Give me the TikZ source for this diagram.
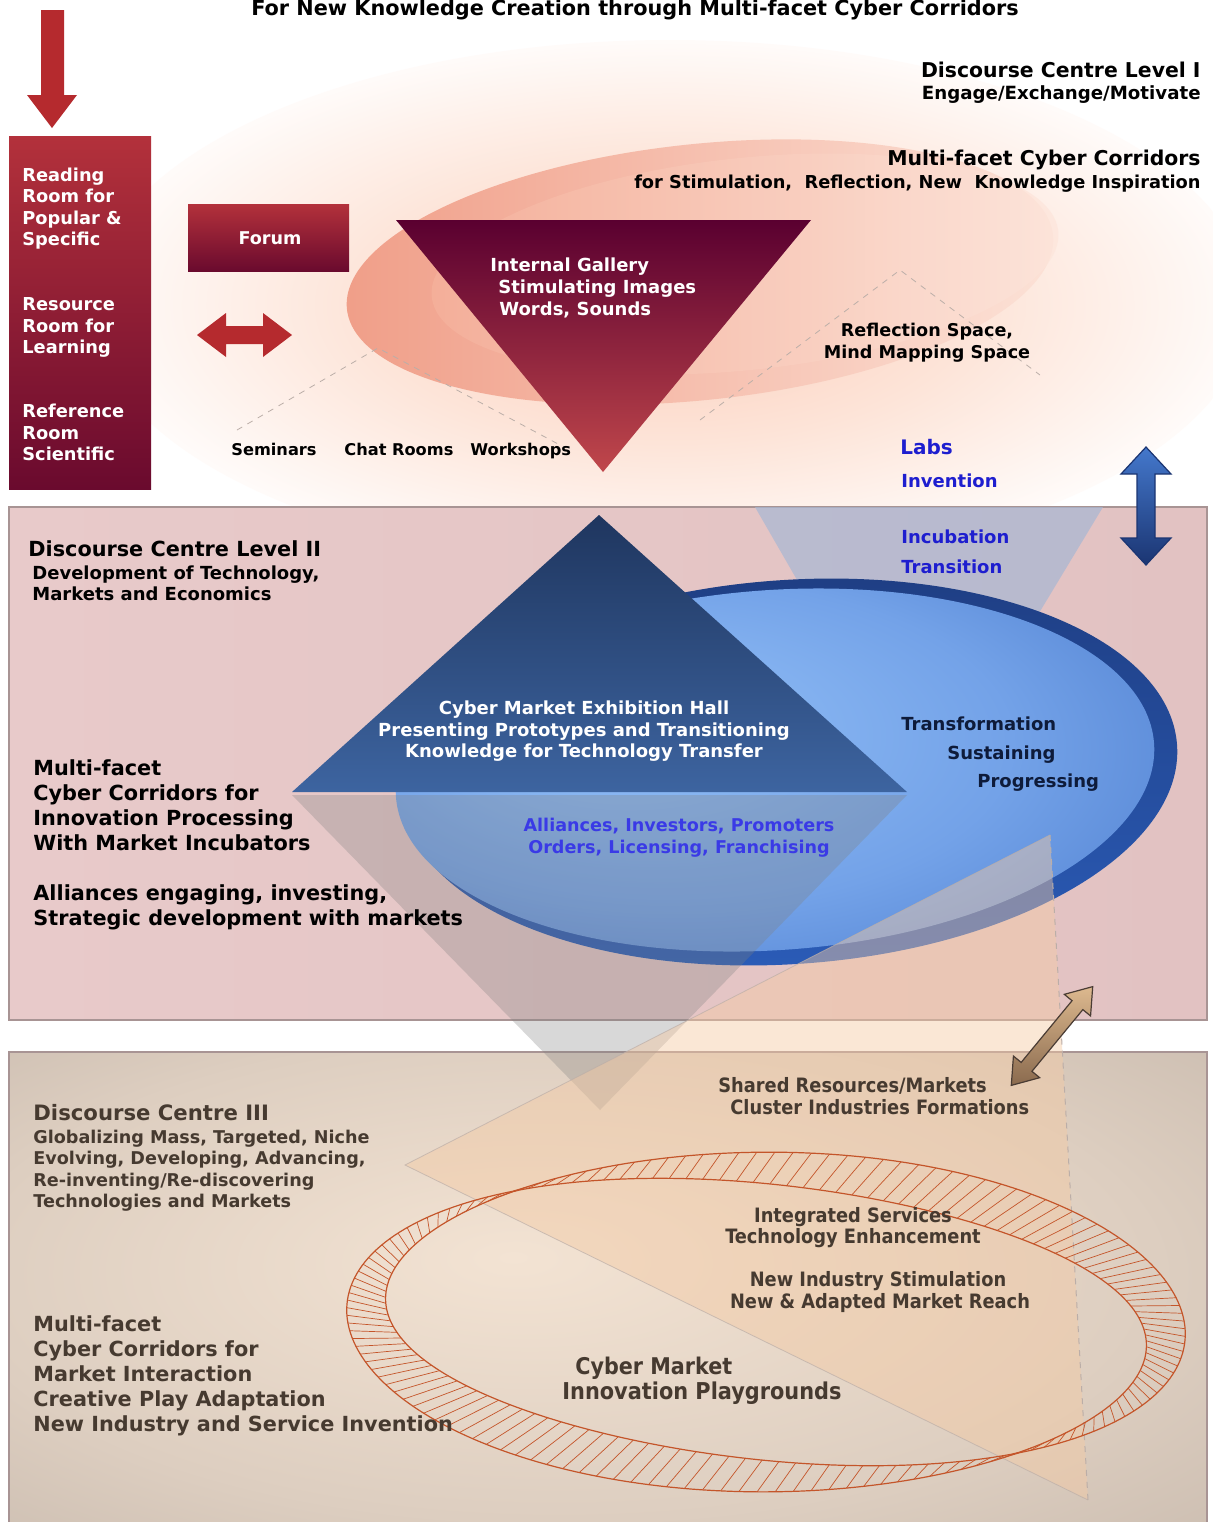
\documentclass[tikz,border=0pt]{standalone}
\usepackage{fontspec}
\setmainfont{DejaVu Sans}
\newfontfamily\condf{DejaVu Sans Condensed}
\definecolor{redA}{HTML}{B3313B}
\definecolor{redB}{HTML}{6A0A2E}
\definecolor{arrowred}{HTML}{B52A2E}
\definecolor{triA}{HTML}{5A0030}
\definecolor{triB}{HTML}{C0474B}
\definecolor{glowA}{HTML}{FBCDBA}
\definecolor{glowB}{HTML}{FDE4D8}
\definecolor{salA}{HTML}{F09E88}
\definecolor{salB}{HTML}{FCE2D7}
\definecolor{salC}{HTML}{F5B29C}
\definecolor{salD}{HTML}{FDE6DC}
\definecolor{labblue}{HTML}{1E1ECF}
\definecolor{allblue}{HTML}{3A3AE6}
\definecolor{pinkA}{HTML}{E8CACA}
\definecolor{pinkB}{HTML}{F5EDED}
\definecolor{pinkC}{HTML}{E2C2C2}
\definecolor{bandline}{HTML}{A89494}
\definecolor{tanA}{HTML}{F3E3D3}
\definecolor{tanB}{HTML}{DDCEC0}
\definecolor{tanC}{HTML}{C2B4A8}
\definecolor{funnel}{HTML}{A7B7D4}
\definecolor{rim}{HTML}{2B5CB8}
\definecolor{rimdark}{HTML}{1F3F85}
\definecolor{dA}{HTML}{95C2F8}
\definecolor{dB}{HTML}{73A2E8}
\definecolor{dC}{HTML}{5282D2}
\definecolor{btriA}{HTML}{1F365F}
\definecolor{btriB}{HTML}{3D64A0}
\definecolor{peach}{HTML}{F4CAA4}
\definecolor{ringc}{HTML}{C4552A}
\definecolor{navytext}{HTML}{0E1B3A}
\definecolor{brownA}{HTML}{DDB98F}
\definecolor{brownB}{HTML}{8A6A4E}
\definecolor{brownline}{HTML}{4A3C34}
\definecolor{tIII}{HTML}{463A30}
\definecolor{upblueA}{HTML}{4478CC}
\definecolor{upblueB}{HTML}{1B3572}
\definecolor{tentc}{HTML}{BBAEA8}
\pgfdeclareradialshading{glowI}{\pgfpoint{0bp}{0bp}}{color(0bp)=(glowA); color(13bp)=(glowB); color(27bp)=(white); color(50bp)=(white)}
\pgfdeclareradialshading{bandIII}{\pgfpoint{-4bp}{4bp}}{color(0bp)=(tanA); color(25bp)=(tanB); color(45bp)=(tanC); color(50bp)=(tanC)}
\pgfdeclareradialshading{diskface}{\pgfpoint{-12bp}{8bp}}{color(0bp)=(dA); color(22bp)=(dB); color(36bp)=(dC); color(50bp)=(dC)}
\newcommand{\fsz}[1]{\fontsize{#1}{#1}\selectfont}
\begin{document}
\begin{tikzpicture}[x=0.5pt,y=-0.5pt,
  txt/.style={inner sep=0pt, text height=0.75em, text depth=0.25em},
  wlab/.style={txt, anchor=west, text=white, font=\bfseries\fsz{#1}},
  wlab/.default=8.9,
  blab/.style={txt, anchor=west, text=black, font=\bfseries\fsz{#1}},
  tlab/.style={txt, anchor=west, text=tIII, font=\bfseries\fsz{#1}},
  clab/.style={txt, text=tIII, font=\condf\bfseries\fsz{#1}},
  bluelab/.style={txt, anchor=west, text=labblue, font=\bfseries\fsz{#1}},
  tentline/.style={draw=tentc, dashed, line width=0.4pt},
  ringhatch/.style={draw=ringc, line width=0.35pt},
  ringedge/.style={draw=ringc, line width=0.6pt}]
\useasboundingbox (0,0) rectangle (1212,1522);
\fill[white] (0,0) rectangle (1212,1522);

% ---------- Level I background glow ----------
\shade[shading=glowI] (670,305) ellipse [x radius=580, y radius=265];
\shade[left color=salA, right color=salB, rotate around={6:(700,272)}] (700,272) ellipse [x radius=355, y radius=128];
\shade[left color=salC, right color=salD, opacity=0.7, rotate around={6:(745,264)}] (745,264) ellipse [x radius=315, y radius=106];
\draw[tentline] (237,430) -- (378,348) -- (560,445);
\draw[tentline] (700,420) -- (900,270) -- (1040,375);

% ---------- Level II and III bands ----------
\shade[left color=pinkA, middle color=pinkB, right color=pinkC] (9,507) rectangle (1207,1020);
\draw[bandline, line width=0.6pt] (9,507) rectangle (1207,1020);
\shade[shading=bandIII] (9,1052) rectangle (1207,1540);
\draw[bandline, line width=0.6pt] (9,1540) -- (9,1052) -- (1207,1052) -- (1207,1540);

% ---------- funnel and disk ----------
\fill[funnel, opacity=0.7] (755,507) -- (1103,507) -- (925,802) -- cycle;
\shade[top color=rimdark, bottom color=rim, rotate around={4:(790,772)}] (790,772) ellipse [x radius=388, y radius=192];
\shade[shading=diskface, rotate around={4:(775,770)}] (775,770) ellipse [x radius=380, y radius=180];

% ---------- triangles ----------
\shade[top color=btriA, bottom color=btriB] (599,515) -- (907,792) -- (292,792) -- cycle;
\fill[gray, opacity=0.3] (292,795) -- (907,795) -- (600,1110) -- cycle;
\fill[peach, opacity=0.45] (405,1165) -- (1050,835) -- (1088,1500) -- cycle;
\draw[tentc, line width=0.4pt, opacity=0.7] (1050,835) -- (405,1165) -- (1088,1500);
\draw[tentc, dashed, line width=0.5pt] (1050,835) -- (1088,1500);

% ---------- Level I shapes ----------
\shade[top color=redA, bottom color=redB] (9,136) rectangle (151,489);
\shade[top color=redA, bottom color=redB] (188,204) rectangle (349,271);
\shade[top color=triA, bottom color=triB] (396,220) -- (811,220) -- (603,472) -- cycle;
\fill[arrowred] (41,10) -- (64,10) -- (64,95) -- (77,95) -- (52,128) -- (27,95) -- (41,95) -- cycle;
\fill[arrowred] (197,335) -- (226,313) -- (226,326) -- (263,326) -- (263,313) -- (292,335)
  -- (263,357) -- (263,344) -- (226,344) -- (226,357) -- cycle;
\shade[top color=upblueA, bottom color=upblueB, draw=upblueB, line width=0.6pt]
  (1146,447) -- (1171,474) -- (1155,474) -- (1155,538) -- (1171,538) -- (1146,565)
  -- (1121,538) -- (1137,538) -- (1137,474) -- (1121,474) -- cycle;

% ---------- hatched ring ----------
\begin{scope}[shift={(766,1322)}, rotate=-3]
  \foreach \t in {0,2.5,...,357.5}{
    \draw[ringhatch] ({(400+25*abs(sin(\t-50)))*cos(\t)},{(154+25*abs(sin(\t-50)))*sin(\t)})
      -- ({(400-25*abs(sin(\t-53)))*cos(\t-3)},{(154-25*abs(sin(\t-53)))*sin(\t-3)});
  }
  \draw[ringedge] plot[domain=0:360, samples=241] ({(400+25*abs(sin(\x-50)))*cos(\x)},{(154+25*abs(sin(\x-50)))*sin(\x)});
  \draw[ringedge] plot[domain=0:360, samples=241] ({(400-25*abs(sin(\x-50)))*cos(\x)},{(154-25*abs(sin(\x-50)))*sin(\x)});
\end{scope}

% ---------- brown diagonal arrow ----------
\begin{scope}[shift={(1052,1036)}, rotate=50.5]
  \shade[top color=brownA, bottom color=brownB, draw=brownline, line width=0.6pt]
    (-64,0) -- (-40,17) -- (-40,7) -- (40,7) -- (40,17) -- (64,0) -- (40,-17) -- (40,-7)
    -- (-40,-7) -- (-40,-17) -- cycle;
\end{scope}

% ---------- Level I texts ----------
\node (title) [txt, font=\bfseries\fsz{10.4}] at (635,10) {For New Knowledge Creation through Multi-facet Cyber Corridors};
\node (dcI) [txt, anchor=east, font=\bfseries\fsz{10.2}] at (1201,72) {Discourse Centre Level I};
\node (dcIsub) [txt, anchor=east, font=\bfseries\fsz{9.1}] at (1201,94) {Engage/Exchange/Motivate};
\node (mfI) [txt, anchor=east, font=\bfseries\fsz{10.2}] at (1201,160) {Multi-facet Cyber Corridors};
\node (mfIsub) [txt, anchor=east, font=\bfseries\fsz{8.9}] at (1201,183) {for Stimulation,\ \ Reflection, New\ \ Knowledge Inspiration};

\node (c1) [wlab] at (22,176) {Reading};
\node (c2) [wlab] at (22,197) {Room for};
\node (c3) [wlab] at (22,219) {Popular \&};
\node (c4) [wlab] at (22,240) {Specific};
\node (c5) [wlab] at (22,305) {Resource};
\node (c6) [wlab] at (22,327) {Room for};
\node (c7) [wlab] at (22,348) {Learning};
\node (c8) [wlab] at (22,412) {Reference};
\node (c9) [wlab] at (22,434) {Room};
\node (c10) [wlab] at (22,455) {Scientific};
\node (forum) [wlab=8.8, anchor=center] at (270,239) {Forum};
\node (g1) [wlab=9] at (490,266) {Internal Gallery};
\node (g2) [wlab=9] at (498,288) {Stimulating Images};
\node (g3) [wlab=9] at (499,310) {Words, Sounds};
\node (sem) [blab=8.1] at (231,450) {Seminars};
\node (chat) [blab=8.1] at (344,450) {Chat Rooms};
\node (work) [blab=8.1] at (470,450) {Workshops};
\node (refl1) [blab=8.8, anchor=center] at (927,331) {Reflection Space,};
\node (refl2) [blab=8.8, anchor=center] at (927,353) {Mind Mapping Space};
\node (labs) [bluelab=10] at (900,449) {Labs};
\node (inv) [bluelab=9] at (901,482) {Invention};
\node (inc) [bluelab=9] at (901,538) {Incubation};
\node (tra) [bluelab=9] at (901,568) {Transition};

% ---------- Level II texts ----------
\node (dcII) [blab=10.4] at (28,551) {Discourse Centre Level II};
\node (dcII1) [blab=9] at (32,574) {Development of Technology,};
\node (dcII2) [blab=9] at (32,595) {Markets and Economics};
\node (m1) [blab=10.4] at (33,770) {Multi-facet};
\node (m2) [blab=10.4] at (33,795) {Cyber Corridors for};
\node (m3) [blab=10.4] at (33,820) {Innovation Processing};
\node (m4) [blab=10.4] at (33,845) {With Market Incubators};
\node (m5) [blab=10.4] at (33,895) {Alliances engaging, investing,};
\node (m6) [blab=10.4] at (33,920) {Strategic development with markets};
\node (ex1) [txt, text=white, font=\bfseries\fsz{9}] at (584,709) {Cyber Market Exhibition Hall};
\node (ex2) [txt, text=white, font=\bfseries\fsz{9}] at (584,731) {Presenting Prototypes and Transitioning};
\node (ex3) [txt, text=white, font=\bfseries\fsz{9}] at (584,752) {Knowledge for Technology Transfer};
\node (al1) [txt, text=allblue, font=\bfseries\fsz{8.8}] at (679,826) {Alliances, Investors, Promoters};
\node (al2) [txt, text=allblue, font=\bfseries\fsz{8.8}] at (679,848) {Orders, Licensing, Franchising};
\node (tf1) [txt, anchor=west, text=navytext, font=\bfseries\fsz{9}] at (901,725) {Transformation};
\node (tf2) [txt, anchor=west, text=navytext, font=\bfseries\fsz{9}] at (947,754) {Sustaining};
\node (tf3) [txt, anchor=west, text=navytext, font=\bfseries\fsz{9}] at (977,782) {Progressing};

% ---------- Level III texts ----------
\node (dcIII) [tlab=10.6] at (33,1115) {Discourse Centre III};
\node (d1) [tlab=8.8] at (33,1138) {Globalizing Mass, Targeted, Niche};
\node (d2) [tlab=8.8] at (33,1159) {Evolving, Developing, Advancing,};
\node (d3) [tlab=8.8] at (33,1181) {Re-inventing/Re-discovering};
\node (d4) [tlab=8.8] at (33,1202) {Technologies and Markets};
\node (p1) [tlab=10.4] at (33,1326) {Multi-facet};
\node (p2) [tlab=10.4] at (33,1351) {Cyber Corridors for};
\node (p3) [tlab=10.4] at (33,1376) {Market Interaction};
\node (p4) [tlab=10.4] at (33,1401) {Creative Play Adaptation};
\node (p5) [tlab=10.4] at (33,1426) {New Industry and Service Invention};
\node (sr1) [clab=9.9, anchor=west] at (718,1087) {Shared Resources/Markets};
\node (sr2) [clab=9.9, anchor=west] at (730,1109) {Cluster Industries Formations};
\node (is1) [clab=9.9] at (853,1217) {Integrated Services};
\node (is2) [clab=9.9] at (853,1238) {Technology Enhancement};
\node (ni1) [clab=9.9] at (878,1281) {New Industry Stimulation};
\node (ni2) [clab=9.9] at (880,1303) {New \& Adapted Market Reach};
\node (cm1) [clab=11.5, anchor=west] at (575,1369) {Cyber Market};
\node (cm2) [clab=11.6, anchor=west] at (562,1394) {Innovation Playgrounds};
\end{tikzpicture}
\end{document}
